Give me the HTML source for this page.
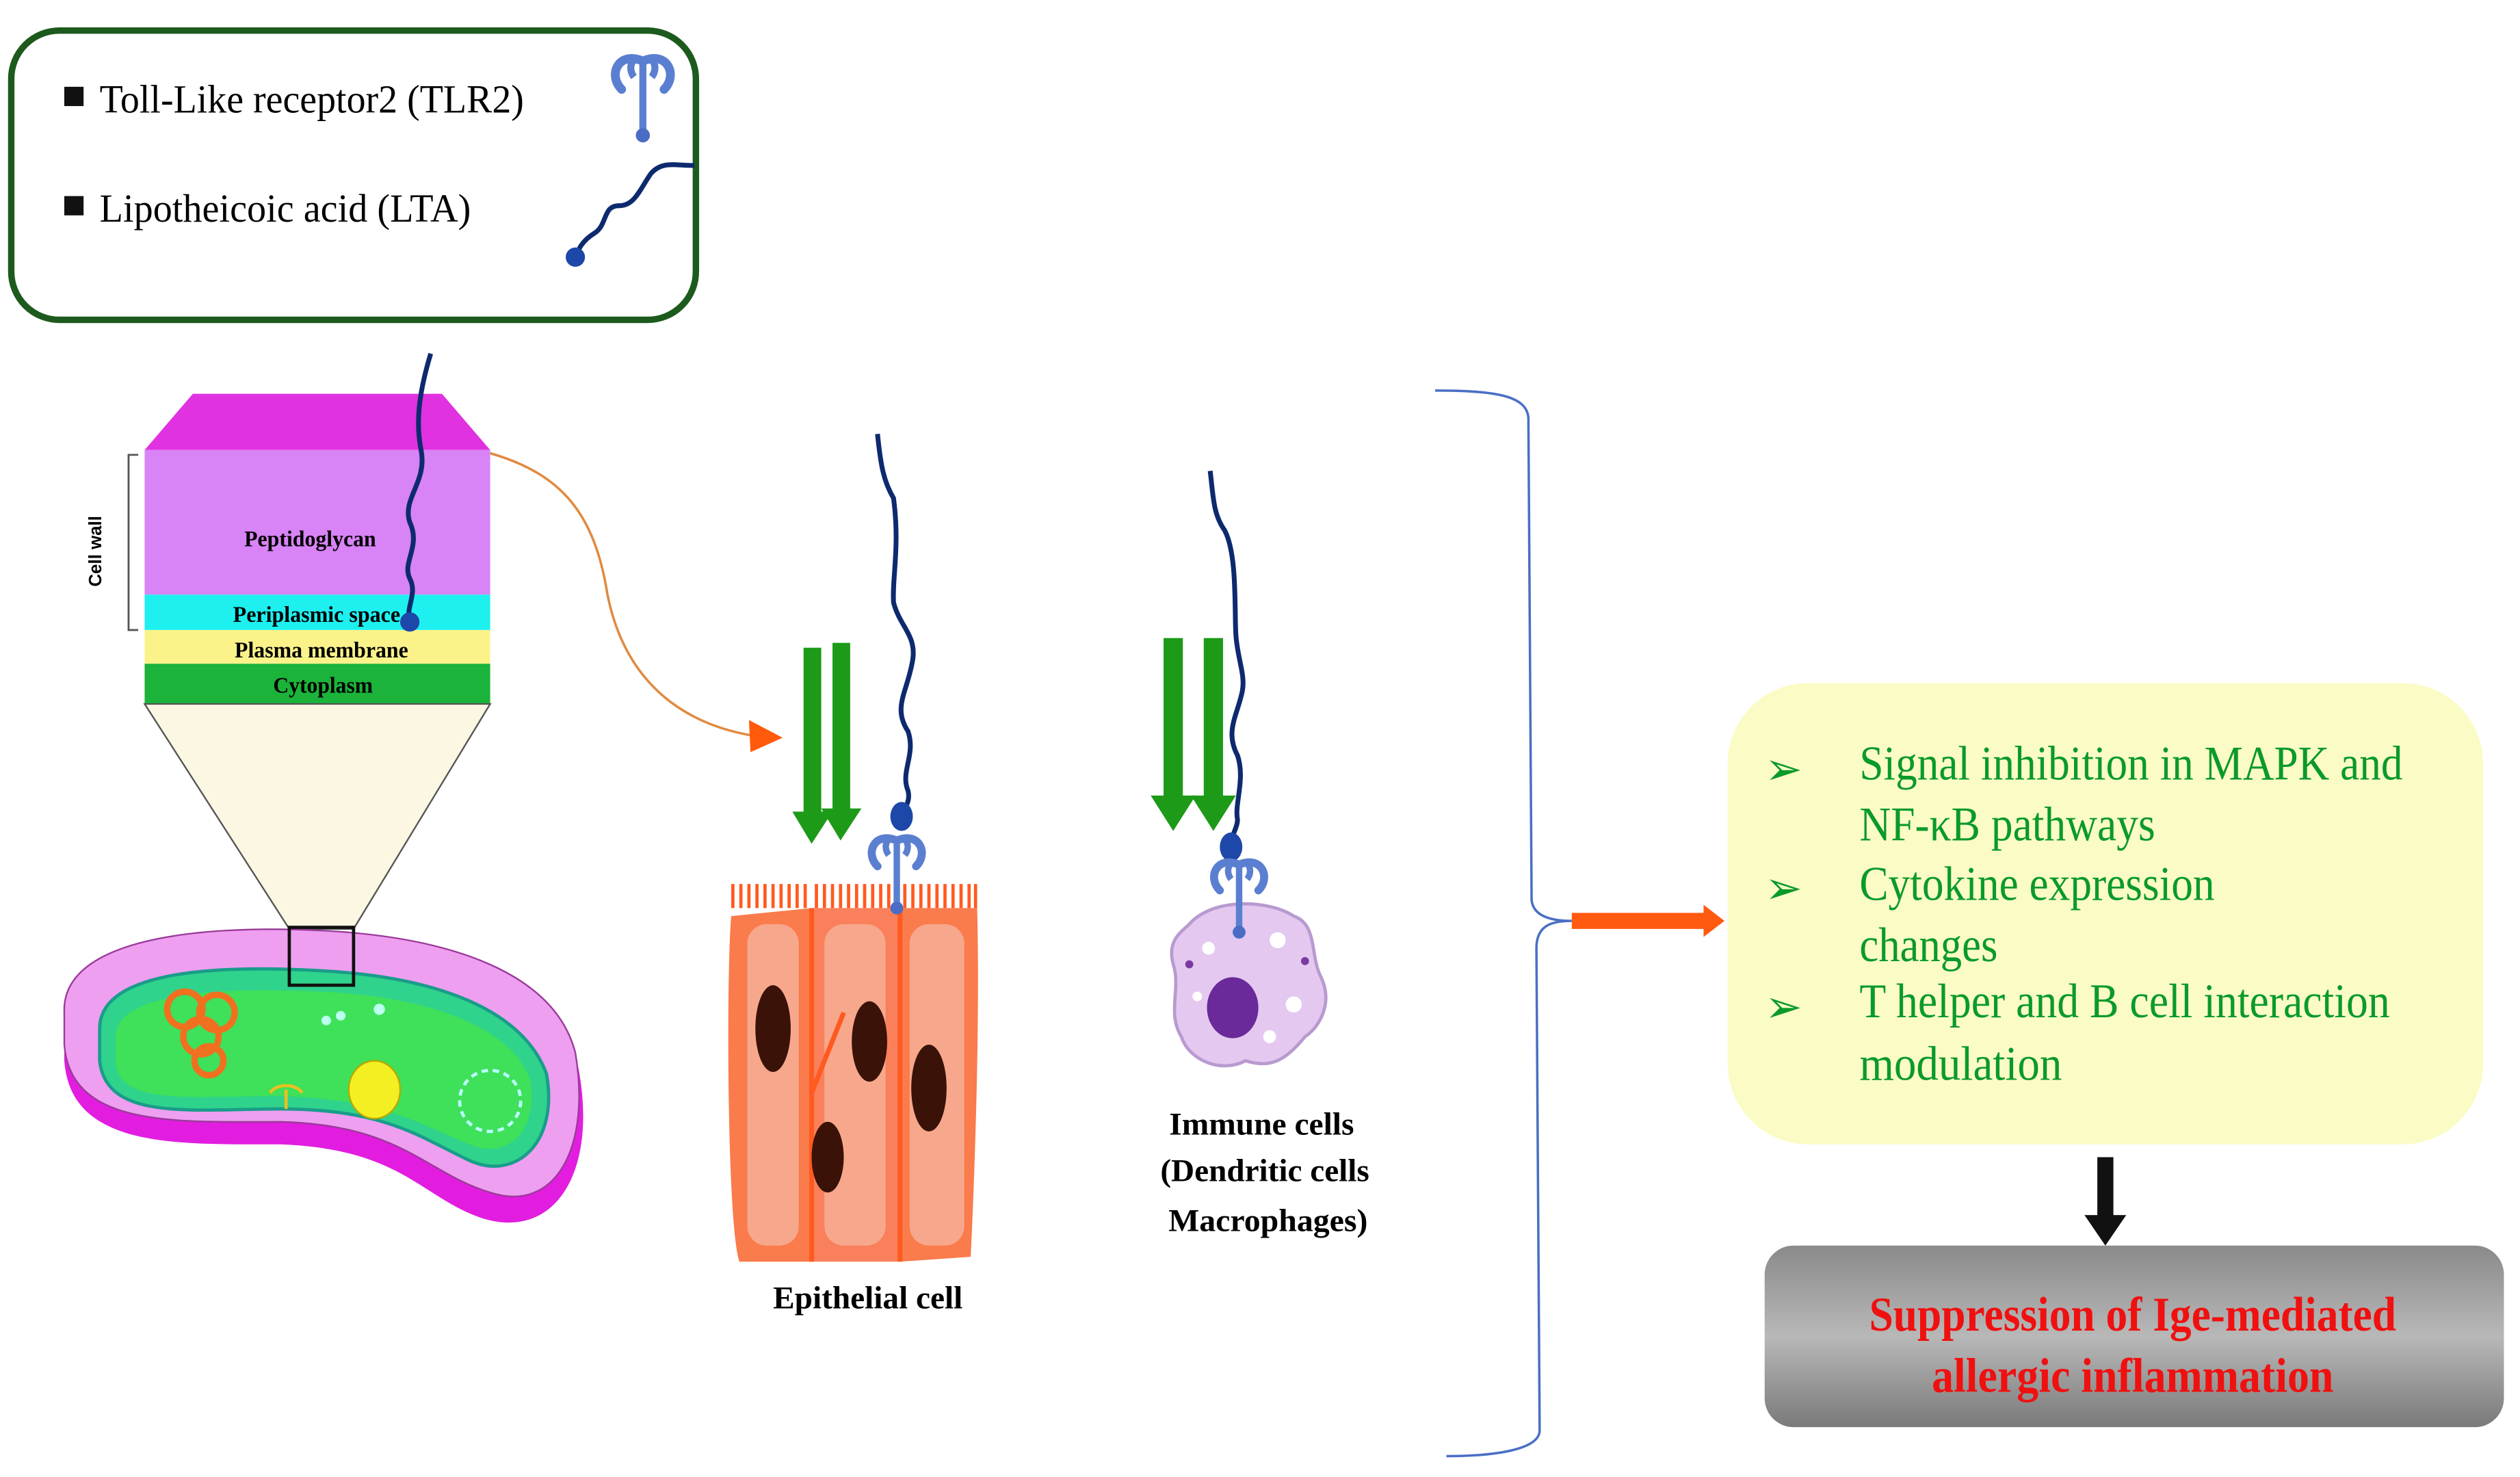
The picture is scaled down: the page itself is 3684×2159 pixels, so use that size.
<!DOCTYPE html>
<html><head><meta charset="utf-8"><style>
html,body{margin:0;padding:0;background:#fff;}
svg{display:block;}
text{font-family:"Liberation Serif",serif;}
</style></head><body>
<svg width="3684" height="2159" viewBox="0 0 1568 919" preserveAspectRatio="none" xmlns="http://www.w3.org/2000/svg">
<defs>
<linearGradient id="gr" x1="0" y1="0" x2="0" y2="1">
<stop offset="0" stop-color="#8a8a8a"/><stop offset="0.5" stop-color="#b8b8b8"/><stop offset="1" stop-color="#7a7a7a"/>
</linearGradient>
<g id="tlr">
<path d="M0,0 C-14,-6 -20,8 -12,16 M0,0 C14,-6 20,8 12,16" fill="none" stroke="#5b7fd0" stroke-width="5" stroke-linecap="round"/>
<path d="M0,0 C-6,-4 -9,4 -5,9 M0,0 C6,-4 9,4 5,9" fill="none" stroke="#5b7fd0" stroke-width="4"/>
<line x1="0" y1="-2" x2="0" y2="40" stroke="#5b7fd0" stroke-width="4"/>
<circle cx="0" cy="42" r="4" fill="#4a6cc4"/>
</g>
</defs>

<!-- legend -->
<rect x="7" y="19" width="426" height="180" rx="30" fill="#fff" stroke="#1d5a1d" stroke-width="4"/>
<rect x="40" y="54" width="12" height="12" fill="#111"/>
<text x="62" y="70" font-size="25" textLength="264" lengthAdjust="spacingAndGlyphs">Toll-Like receptor2 (TLR2)</text>
<rect x="40" y="122" width="12" height="12" fill="#111"/>
<text x="62" y="138" font-size="25" textLength="231" lengthAdjust="spacingAndGlyphs">Lipotheicoic acid (LTA)</text>
<use href="#tlr" transform="translate(400,38) scale(1.1)"/>
<path d="M432,103 C420,103 412,100 405,108 C398,118 395,128 385,128 C375,128 378,140 370,145 C362,150 360,155 358,160" fill="none" stroke="#0e2a6e" stroke-width="3"/>
<circle cx="358" cy="160" r="6" fill="#1d47a8"/>

<!-- cell wall cutaway -->
<polygon points="120,245 275,245 305,280 90,280" fill="#e032e0"/>
<rect x="90" y="280" width="215" height="90" fill="#d883f6"/>
<rect x="90" y="370" width="215" height="22" fill="#1ef0f0"/>
<rect x="90" y="392" width="215" height="21" fill="#fbf28a"/>
<rect x="90" y="413" width="215" height="25" fill="#1bb33a"/>
<polygon points="90,438 305,438 220,578 180,578" fill="#fbf7e2" stroke="#555" stroke-width="1"/>
<path d="M86,283 L80,283 L80,392 L86,392" fill="none" stroke="#555" stroke-width="1.2"/>
<text transform="translate(63,343) rotate(-90)" text-anchor="middle" font-family="Liberation Sans,sans-serif" font-size="11" font-weight="bold" style="font-family:'Liberation Sans',sans-serif">Cell wall</text>
<text x="193" y="340" text-anchor="middle" font-size="14" font-weight="bold" textLength="82" lengthAdjust="spacingAndGlyphs">Peptidoglycan</text>
<text x="197" y="387" text-anchor="middle" font-size="14" font-weight="bold" textLength="104" lengthAdjust="spacingAndGlyphs">Periplasmic space</text>
<text x="200" y="409" text-anchor="middle" font-size="14" font-weight="bold" textLength="108" lengthAdjust="spacingAndGlyphs">Plasma membrane</text>
<text x="201" y="431" text-anchor="middle" font-size="14" font-weight="bold" textLength="62" lengthAdjust="spacingAndGlyphs">Cytoplasm</text>
<path d="M268,220 C262,240 258,260 262,280 C266,300 250,310 255,325 C262,340 250,350 255,360 C260,370 252,378 255,387" fill="none" stroke="#0e2a6e" stroke-width="3"/>
<circle cx="255" cy="387" r="6" fill="#1d47a8"/>
<!-- orange curve -->
<path d="M305,282 C350,295 370,320 378,370 C388,420 420,450 470,458" fill="none" stroke="#e08a40" stroke-width="1.5"/>
<polygon points="466,448 487,459 467,468" fill="#ff5a0a"/>

<!-- bacterium -->
<path d="M40,640 C38,590 120,578 200,582 C280,586 345,608 360,665 C372,730 345,772 300,758 C262,745 250,715 175,712 C110,712 44,715 40,660 Z" fill="#e21de0"/>
<path d="M40,630 C38,585 120,575 200,579 C280,583 345,605 358,655 C368,715 345,755 305,742 C265,730 250,700 175,698 C110,698 44,702 40,650 Z" fill="#ee9ff0" stroke="#9a3a9a" stroke-width="1"/>
<path d="M62,640 C62,605 130,600 200,604 C272,608 325,628 340,668 C348,712 320,735 292,722 C262,708 240,690 175,690 C120,690 66,698 62,660 Z" fill="#2fd38c" stroke="#1a9c8a" stroke-width="2"/>
<path d="M72,645 C72,618 135,614 200,617 C265,620 318,638 330,672 C335,705 315,722 292,712 C262,700 240,684 175,682 C120,682 75,688 72,662 Z" fill="#3fe05a"/>
<rect x="180" y="577" width="40" height="36" fill="none" stroke="#111" stroke-width="2"/>
<g fill="none" stroke="#f07020" stroke-width="4">
<circle cx="115" cy="628" r="11"/><circle cx="135" cy="630" r="11"/><circle cx="125" cy="645" r="11"/><circle cx="130" cy="660" r="9"/>
</g>
<ellipse cx="233" cy="678" rx="16" ry="18" fill="#f3ef22" stroke="#b8a800"/>
<circle cx="305" cy="685" r="19" fill="none" stroke="#bff" stroke-width="2" stroke-dasharray="4 3"/>
<circle cx="203" cy="635" r="3" fill="#bfe" /><circle cx="212" cy="632" r="3" fill="#bfe"/><circle cx="236" cy="628" r="3.5" fill="#bfe"/>
<path d="M168,680 C172,674 184,674 188,680 M178,678 L178,690" stroke="#e8c020" stroke-width="2" fill="none"/>

<!-- epithelial arrows -->
<g fill="#1d9a18">
<rect x="500" y="403" width="11" height="105"/><polygon points="493,505 518,505 505,525"/>
<rect x="518" y="400" width="11" height="105"/><polygon points="511,503 536,503 523,523"/>
<rect x="724" y="397" width="12" height="100"/><polygon points="716,495 744,495 730,517"/>
<rect x="749" y="397" width="12" height="100"/><polygon points="741,495 769,495 755,517"/>
</g>
<!-- epithelial LTA -->
<path d="M546,270 C548,290 550,300 556,310 C560,340 555,360 556,375 C560,390 570,395 568,410 C565,430 555,440 565,455 C570,470 560,480 565,492 C567,500 561,505 560,508" fill="none" stroke="#0e2a6e" stroke-width="3"/>
<ellipse cx="561" cy="508" rx="7" ry="9" fill="#1d47a8"/>
<!-- immune LTA -->
<path d="M753,293 C755,310 755,320 762,330 C770,345 768,380 769,395 C770,410 775,420 773,430 C770,445 762,455 770,470 C775,485 768,500 770,510 C770,515 766,520 766,525" fill="none" stroke="#0e2a6e" stroke-width="3"/>
<ellipse cx="766" cy="527" rx="7" ry="9" fill="#1d47a8"/>

<!-- epithelial cells -->
<g stroke="#ff5a20" stroke-width="2">
<path d="M456,565 L456,550 M461,565 L461,550 M466,565 L466,550 M471,565 L471,550 M476,565 L476,550 M481,565 L481,550 M486,565 L486,550 M491,565 L491,550 M496,565 L496,550 M501,565 L501,550 M508,565 L508,550 M513,565 L513,550 M518,565 L518,550 M523,565 L523,550 M528,565 L528,550 M533,565 L533,550 M538,565 L538,550 M543,565 L543,550 M548,565 L548,550 M553,565 L553,550 M563,565 L563,550 M568,565 L568,550 M573,565 L573,550 M578,565 L578,550 M583,565 L583,550 M588,565 L588,550 M593,565 L593,550 M598,565 L598,550 M603,565 L603,550 M607,565 L607,550"/>
</g>
<path d="M455,570 L505,565 L505,785 L460,785 C452,760 452,600 455,570 Z" fill="#fa7b4c"/>
<path d="M505,565 L560,565 L560,785 L505,785 Z" fill="#f9805a"/>
<path d="M560,565 L608,565 C610,640 606,740 604,782 L560,785 Z" fill="#fa7b4c"/>
<rect x="465" y="575" width="32" height="200" rx="12" fill="#f7a88c"/>
<rect x="513" y="575" width="38" height="200" rx="12" fill="#f7a88c"/>
<rect x="566" y="575" width="34" height="200" rx="12" fill="#f7a88c"/>
<path d="M505,565 L505,785 M560,565 L560,785 M505,680 L525,630" stroke="#ff5a20" stroke-width="3" fill="none"/>
<ellipse cx="481" cy="640" rx="11" ry="27" fill="#3a1208"/>
<ellipse cx="541" cy="648" rx="11" ry="25" fill="#3a1208"/>
<ellipse cx="578" cy="677" rx="11" ry="27" fill="#3a1208"/>
<ellipse cx="515" cy="720" rx="10" ry="22" fill="#3a1208"/>
<use href="#tlr" transform="translate(558,523)"/>

<!-- immune cell -->
<path d="M740,575 C755,558 790,560 805,570 C820,575 815,595 822,608 C830,625 820,640 812,645 C800,660 790,665 775,660 C760,668 740,660 735,645 C726,630 735,615 730,600 C726,585 735,580 740,575 Z" fill="#e4c8f0" stroke="#b89ad0" stroke-width="2"/>
<circle cx="752" cy="590" r="4" fill="#fff"/><circle cx="795" cy="585" r="5" fill="#fff"/><circle cx="805" cy="625" r="5" fill="#fff"/><circle cx="745" cy="620" r="3" fill="#fff"/><circle cx="790" cy="645" r="4" fill="#fff"/>
<circle cx="740" cy="600" r="2.5" fill="#7a3aa0"/><circle cx="812" cy="598" r="2.5" fill="#7a3aa0"/>
<ellipse cx="767" cy="627" rx="16" ry="19" fill="#6a2a9a"/>
<use href="#tlr" transform="translate(771,538)"/>

<g font-weight="bold" text-anchor="middle" font-size="20">
<text x="540" y="814" textLength="118" lengthAdjust="spacingAndGlyphs">Epithelial cell</text>
<text x="785" y="706" textLength="115" lengthAdjust="spacingAndGlyphs">Immune cells</text>
<text x="787" y="735" textLength="130" lengthAdjust="spacingAndGlyphs">(Dendritic cells</text>
<text x="789" y="766" textLength="124" lengthAdjust="spacingAndGlyphs">Macrophages)</text>
</g>

<!-- brace -->
<path d="M893,243 C930,243 950,246 951,260 L953,560 C954,570 965,573 978,573 C965,573 956,576 956,590 L958,890 C958,902 930,906 900,906" fill="none" stroke="#4a6fc4" stroke-width="1.5"/>
<polygon points="978,568 1060,568 1060,563 1073,573 1060,583 1060,578 978,578" fill="#ff5a10"/>

<!-- yellow box -->
<rect x="1075" y="425" width="470" height="287" rx="50" fill="#fbfbc6"/>
<g fill="#0a9a2a" font-size="30">
<text x="1098" y="488" font-size="28">➢</text>
<text x="1098" y="562" font-size="28">➢</text>
<text x="1098" y="636" font-size="28">➢</text>
<text x="1157" y="485" textLength="338" lengthAdjust="spacingAndGlyphs">Signal inhibition in MAPK and</text>
<text x="1157" y="523" textLength="184" lengthAdjust="spacingAndGlyphs">NF-κB pathways</text>
<text x="1157" y="560" textLength="221" lengthAdjust="spacingAndGlyphs">Cytokine expression</text>
<text x="1157" y="598" textLength="86" lengthAdjust="spacingAndGlyphs">changes</text>
<text x="1157" y="633" textLength="330" lengthAdjust="spacingAndGlyphs">T helper and B cell interaction</text>
<text x="1157" y="672" textLength="126" lengthAdjust="spacingAndGlyphs">modulation</text>
</g>
<!-- black arrow -->
<rect x="1305" y="720" width="10" height="38" fill="#111"/>
<polygon points="1297,756 1323,756 1310,775" fill="#111"/>
<!-- gray box -->
<rect x="1098" y="775" width="460" height="113" rx="18" fill="url(#gr)"/>
<g fill="#f01010" font-weight="bold" text-anchor="middle" font-size="30">
<text x="1327" y="828" textLength="328" lengthAdjust="spacingAndGlyphs">Suppression of Ige-mediated</text>
<text x="1327" y="866" textLength="250" lengthAdjust="spacingAndGlyphs">allergic inflammation</text>
</g>
</svg>
</body></html>
